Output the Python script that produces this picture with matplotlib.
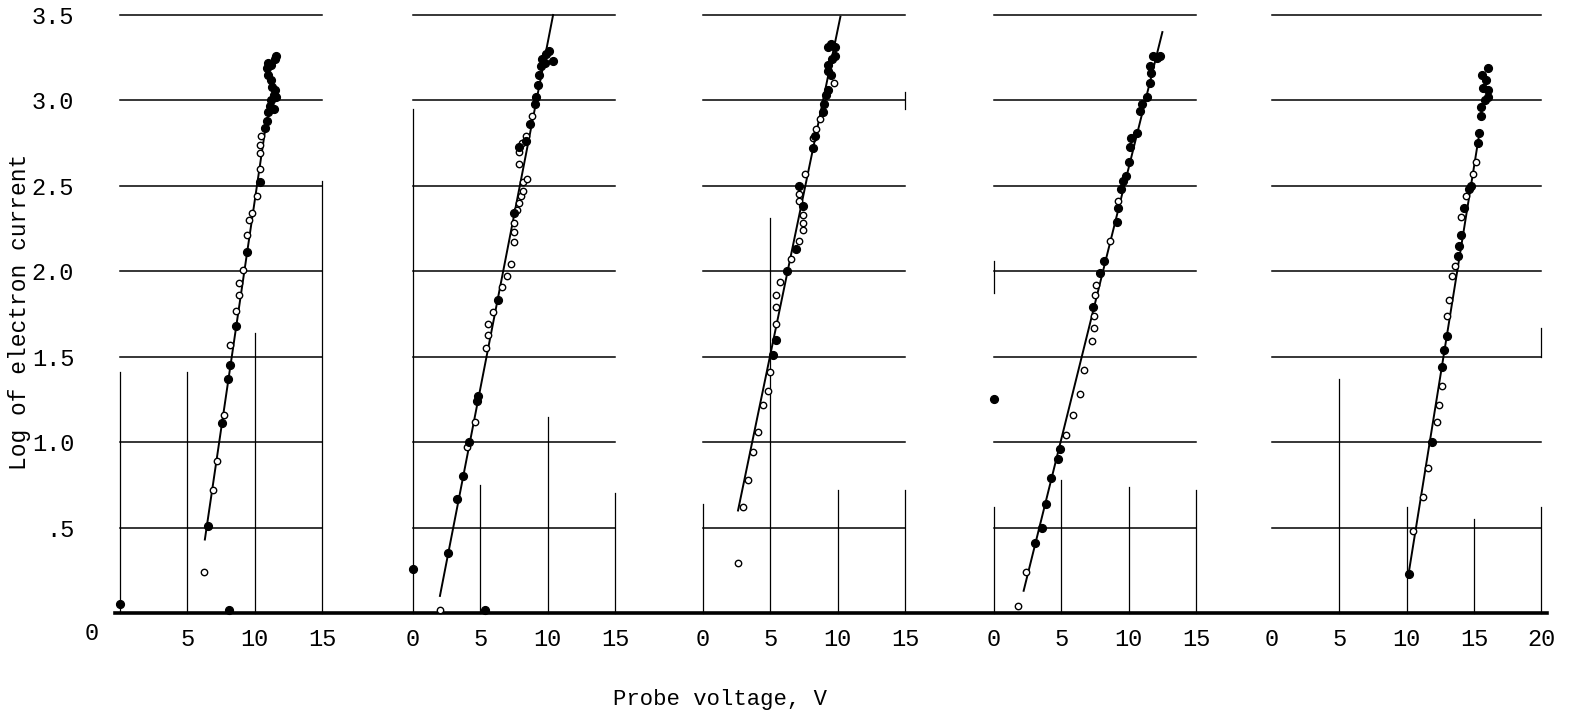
import matplotlib
matplotlib.use("Agg")
import matplotlib.pyplot as plt

plt.rcParams["font.family"] = ["Liberation Mono", "DejaVu Sans Mono"]

# --- data (probe voltage V, log of electron current) ---
p1_open_v = [6.2, 6.9, 7.2, 7.7, 8.2, 8.6, 8.8, 8.8, 9.1, 9.4, 9.6, 9.8, 10.2, 10.4, 10.4, 10.4, 10.5]
p1_open_log = [0.24, 0.72, 0.89, 1.16, 1.57, 1.77, 1.86, 1.93, 2.01, 2.21, 2.30, 2.34, 2.44, 2.60, 2.69, 2.74, 2.79]
p1_fill_v = [0.0, 8.1, 6.5, 7.6, 8.0, 8.2, 8.6, 9.4, 10.4, 10.8, 10.9, 11.0, 11.1, 11.2, 11.4, 11.5, 11.3,
             11.2, 11.0, 10.9, 11.0, 11.2, 11.5, 11.6, 11.4, 11.6]
p1_fill_log = [0.05, 0.02, 0.51, 1.11, 1.37, 1.45, 1.68, 2.11, 2.52, 2.84, 2.88, 2.93, 2.97, 3.00, 3.03, 3.06, 3.08,
               3.12, 3.15, 3.19, 3.22, 3.21, 3.24, 3.26, 2.95, 3.02]
p1_fit_v = [6.3, 10.8]
p1_fit_log = [0.43, 2.84]

p2_open_v = [2.0, 4.0, 4.6, 5.4, 5.6, 5.6, 5.95, 6.6, 7.0, 7.3, 7.5, 7.5, 7.5, 7.7, 7.9, 8.0, 8.2, 8.2, 8.5,
             7.9, 7.9, 8.1, 8.4, 8.8]
p2_open_log = [0.02, 0.97, 1.12, 1.55, 1.63, 1.69, 1.76, 1.91, 1.97, 2.04, 2.17, 2.23, 2.28, 2.36, 2.40, 2.44, 2.47,
               2.52, 2.54, 2.63, 2.70, 2.75, 2.79, 2.91]
p2_fill_v = [0.0, 5.35, 2.6, 3.3, 3.7, 4.15, 4.75, 4.85, 6.3, 7.5, 7.9, 8.4, 8.7, 9.05, 9.1, 9.3, 9.35, 9.5, 9.6,
             9.9, 10.1, 10.4, 9.8]
p2_fill_log = [0.26, 0.02, 0.35, 0.67, 0.80, 1.00, 1.24, 1.27, 1.83, 2.34, 2.73, 2.76, 2.86, 2.98, 3.02, 3.09, 3.15,
               3.20, 3.24, 3.27, 3.29, 3.23, 3.22]
p2_fit_v = [2.0, 10.4]
p2_fit_log = [0.10, 3.50]

p3_open_v = [2.6, 3.0, 3.35, 3.7, 4.1, 4.45, 4.8, 4.95, 5.45, 5.45, 5.45, 5.75, 6.5, 7.15, 7.4, 7.4, 7.4, 7.1,
             7.15, 7.6, 8.15, 8.4, 8.7, 9.7]
p3_open_log = [0.29, 0.62, 0.78, 0.94, 1.06, 1.22, 1.30, 1.41, 1.69, 1.79, 1.86, 1.94, 2.07, 2.18, 2.24, 2.28, 2.33,
               2.41, 2.45, 2.57, 2.78, 2.83, 2.89, 3.10]
p3_fill_v = [5.2, 5.45, 6.2, 6.9, 7.45, 7.15, 8.2, 8.3, 8.9, 9.0, 9.1, 9.3, 9.5, 9.25, 9.6, 9.8, 9.3, 9.5, 9.8, 9.25]
p3_fill_log = [1.51, 1.60, 2.00, 2.13, 2.38, 2.50, 2.72, 2.79, 2.93, 2.98, 3.03, 3.06, 3.15, 3.21, 3.24, 3.26, 3.31,
               3.33, 3.31, 3.17]
p3_fit_v = [2.6, 10.2]
p3_fit_log = [0.60, 3.49]

p4_open_v = [1.8, 2.4, 5.35, 5.85, 6.4, 6.7, 7.3, 7.4, 7.4, 7.5, 7.6, 8.6, 9.2]
p4_open_log = [0.04, 0.24, 1.04, 1.16, 1.28, 1.42, 1.59, 1.67, 1.74, 1.86, 1.92, 2.18, 2.41]
p4_fill_v = [0.0, 3.05, 3.55, 3.85, 4.2, 4.75, 4.9, 7.35, 7.9, 8.2, 9.1, 9.2, 9.4, 9.6, 9.8, 10.0, 10.1, 10.2,
             10.6, 10.85, 11.0, 11.35, 11.55, 11.65, 11.6, 11.8, 12.1, 12.3]
p4_fill_log = [1.25, 0.41, 0.50, 0.64, 0.79, 0.90, 0.96, 1.79, 1.99, 2.06, 2.29, 2.37, 2.48, 2.53, 2.56, 2.64, 2.73,
               2.78, 2.81, 2.94, 2.98, 3.02, 3.10, 3.16, 3.20, 3.26, 3.25, 3.26]
p4_fit_v = [2.2, 12.5]
p4_fit_log = [0.13, 3.40]

p5_open_v = [10.5, 11.2, 11.6, 12.25, 12.4, 12.6, 13.0, 13.15, 13.4, 13.6, 14.05, 14.4, 14.9, 15.15]
p5_open_log = [0.48, 0.68, 0.85, 1.12, 1.22, 1.33, 1.74, 1.83, 1.97, 2.03, 2.32, 2.44, 2.57, 2.64]
p5_fill_v = [10.2, 11.9, 12.65, 12.8, 13.0, 13.8, 13.9, 14.05, 14.25, 14.6, 14.8, 15.3, 15.4, 15.5, 15.5, 15.8,
             16.0, 16.0, 15.9, 15.6, 16.0, 15.7]
p5_fill_log = [0.23, 1.00, 1.44, 1.54, 1.62, 2.09, 2.15, 2.21, 2.37, 2.48, 2.50, 2.75, 2.81, 2.91, 2.96, 3.00,
               3.02, 3.06, 3.12, 3.15, 3.19, 3.07]
p5_fit_v = [10.1, 15.4]
p5_fit_log = [0.21, 2.81]

# axis ranges and ticks of each panel
x_max = [15, 15, 15, 15, 20]
x_ticks = [[5, 10, 15], [0, 5, 10, 15], [0, 5, 10, 15], [0, 5, 10, 15], [0, 5, 10, 15, 20]]
y_ticks = [0.5, 1.0, 1.5, 2.0, 2.5, 3.0, 3.5]
y_tick_labels = [".5", "1.0", "1.5", "2.0", "2.5", "3.0", "3.5"]

# partial vertical rulings of the graph paper: (voltage, from log, to log)
p1_rules = [(0, 0, 1.41), (5, 0, 1.41), (10, 0, 1.64), (15, 0, 2.53)]
p2_rules = [(0, 0, 2.95), (5, 0, 0.75), (10, 0, 1.15), (15, 0, 0.70)]
p3_rules = [(0, 0, 0.64), (5, 0, 2.31), (10, 0, 0.72), (15, 0, 0.72), (15, 2.95, 3.05)]
p4_rules = [(0, 0, 0.62), (0, 1.87, 2.06), (5, 0, 0.78), (10, 0, 0.74), (15, 0, 0.72)]
p5_rules = [(5, 0, 1.37), (10, 0, 0.62), (15, 0, 0.55), (20, 0, 0.62), (20, 1.5, 1.67)]

panels = [
    (p1_open_v, p1_open_log, p1_fill_v, p1_fill_log, p1_fit_v, p1_fit_log, p1_rules),
    (p2_open_v, p2_open_log, p2_fill_v, p2_fill_log, p2_fit_v, p2_fit_log, p2_rules),
    (p3_open_v, p3_open_log, p3_fill_v, p3_fill_log, p3_fit_v, p3_fit_log, p3_rules),
    (p4_open_v, p4_open_log, p4_fill_v, p4_fill_log, p4_fit_v, p4_fit_log, p4_rules),
    (p5_open_v, p5_open_log, p5_fill_v, p5_fill_log, p5_fit_v, p5_fit_log, p5_rules),
]

# --- layout (pixels of the 1574 x 717 page) ---
W, H = 1574, 717
px_per_volt = 13.47
panel_left_px = [120, 413, 703, 994, 1272]
y0_px, y35_px = 613, 15
bottom = (H - y0_px) / H
height = (y0_px - y35_px) / H

fig = plt.figure(figsize=(W / 100, H / 100), dpi=100)

# one continuous heavy base line under all panels
base = fig.add_axes([115 / W, bottom, (1547 - 115) / W, height])
base.set_xlim(0, 1)
base.set_ylim(0, 3.5)
base.axis("off")
base.axhline(0, color="black", lw=2.6, clip_on=False)

for i, (ov, ol, fv, fl, tv, tl, rules) in enumerate(panels):
    ax = fig.add_axes([panel_left_px[i] / W, bottom, x_max[i] * px_per_volt / W, height])
    ax.set_xlim(0, x_max[i])
    ax.set_ylim(0, 3.5)
    for s in ax.spines.values():
        s.set_visible(False)
    ax.patch.set_alpha(0)

    # graph-paper rulings
    for y in y_ticks:
        ax.plot([0, x_max[i]], [y, y], color="black", lw=1.1, clip_on=False)
    for x, lo, hi in rules:
        ax.plot([x, x], [lo, hi], color="black", lw=0.9, clip_on=False)

    ax.plot(tv, tl, color="black", lw=1.4, clip_on=False)
    ax.plot(ov, ol, "o", ms=4.6, mfc="white", mec="black", mew=1.0, clip_on=False)
    ax.plot(fv, fl, "o", ms=5.6, color="black", clip_on=False)

    ax.set_xticks(x_ticks[i])
    ax.set_xticklabels([str(t) for t in x_ticks[i]])
    ax.tick_params(axis="x", length=0, pad=11, labelsize=17)
    if i == 0:
        ax.set_yticks(y_ticks)
        ax.set_yticklabels(y_tick_labels)
        ax.tick_params(axis="y", length=0, pad=33, labelsize=17)
        ax.annotate("0", xy=(0, 0), xytext=(-28, -20), textcoords="offset pixels",
                    ha="center", va="center", fontsize=17)
    else:
        ax.set_yticks([])

fig.text(20 / W, 1 - 312 / H, "Log of electron current", rotation=90,
         ha="center", va="center", fontsize=16.5)
fig.text(720 / W, 1 - 700 / H, "Probe voltage, V", ha="center", va="center", fontsize=16)

fig.savefig("out.png", dpi=100)
